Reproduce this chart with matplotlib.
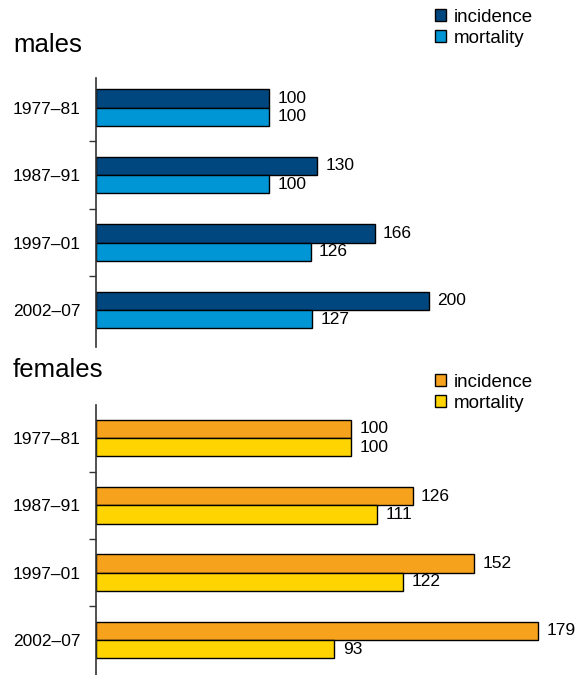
import matplotlib
matplotlib.use('Agg')
import matplotlib.pyplot as plt
from matplotlib.patches import Patch

plt.rcParams['font.family'] = ['Liberation Sans', 'DejaVu Sans']

periods = ['1977–81', '1987–91', '1997–01', '2002–07']
males_incidence = [100, 130, 166, 200]
males_mortality = [100, 100, 126, 127]
females_incidence = [100, 126, 152, 179]
females_mortality = [100, 111, 122, 93]

male_colors = ['#00467f', '#0096d6']
female_colors = ['#f6a21d', '#ffd400']

fig = plt.figure(figsize=(5.82, 6.75), dpi=100)
W, H = 582, 675


def panel(rect, inc, mort, colors, xlim, ylim):
    ax = fig.add_axes(rect)
    pos = range(len(periods))
    h = 0.27
    x0 = xlim[0]
    # bars start at the axis line
    ax.barh([p - h / 2 for p in pos], [v - x0 for v in inc], left=x0, height=h,
            color=colors[0], edgecolor='black', linewidth=1)
    ax.barh([p + h / 2 for p in pos], [v - x0 for v in mort], left=x0, height=h,
            color=colors[1], edgecolor='black', linewidth=1)
    for p, a, b in zip(pos, inc, mort):
        ax.annotate(str(a), (a, p - h / 2), xytext=(6, 0), textcoords='offset points',
                    va='center', ha='left', fontsize=12.5)
        ax.annotate(str(b), (b, p + h / 2), xytext=(6, 0), textcoords='offset points',
                    va='center', ha='left', fontsize=12.5)
    ax.set_xlim(*xlim)
    ax.set_ylim(*ylim)
    ax.set_yticks(list(pos))
    ax.set_yticklabels(periods, fontsize=12.5)
    ax.set_yticks([0.5, 1.5, 2.5], minor=True)
    ax.tick_params(axis='y', which='major', length=0, pad=11)
    ax.tick_params(axis='y', which='minor', length=5, width=1, color='#333333')
    ax.set_xticks([])
    for s in ['top', 'right', 'bottom']:
        ax.spines[s].set_visible(False)
    ax.spines['left'].set_color('#333333')
    ax.spines['left'].set_linewidth(1.2)
    ax.patch.set_visible(False)
    return ax


left = 96 / W
right = 560 / W
ax1 = panel([left, 328 / H, right - left, 269 / H], males_incidence, males_mortality,
            male_colors, (-8.1, 281.9), (3.55, -0.44))
ax2 = panel([left, 0, right - left, 270 / H], females_incidence, females_mortality,
            female_colors, (-7.7, 188.3), (3.52, -0.49))

fig.text(13 / W, 1 - 52 / H, 'males', fontsize=18.5, va='baseline', ha='left')
fig.text(13 / W, 1 - 377 / H, 'females', fontsize=18.5, va='baseline', ha='left')

for cols, top in [(male_colors, 9), (female_colors, 374)]:
    handles = [Patch(facecolor=cols[0], edgecolor='black', linewidth=1, label='incidence'),
               Patch(facecolor=cols[1], edgecolor='black', linewidth=1, label='mortality')]
    fig.legend(handles=handles, loc='upper left', bbox_to_anchor=(435 / W, 1 - top / H),
               frameon=False, fontsize=13.5, borderpad=0, borderaxespad=0,
               handlelength=0.6, handleheight=0.6, handletextpad=0.4,
               labelspacing=0.2)

fig.savefig('out.png', dpi=100)
